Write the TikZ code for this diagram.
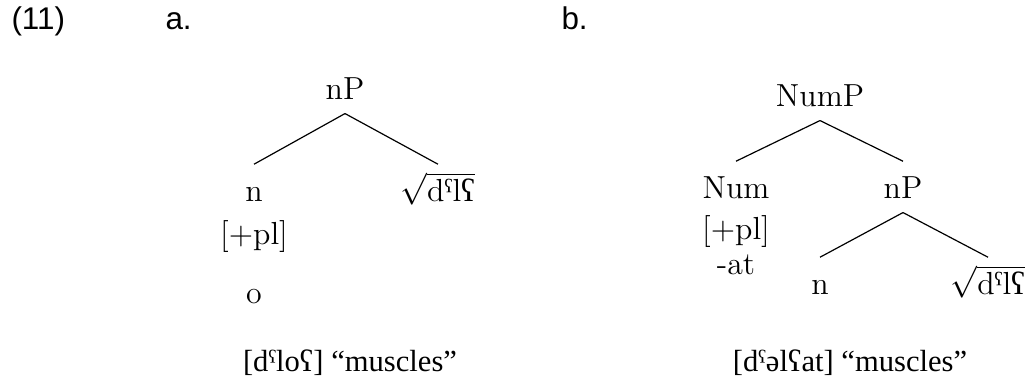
\documentclass[tikz,border=0pt]{standalone}
\usepackage{fontspec}
\newfontfamily\ipafont{Liberation Serif}
\newfontfamily\glossfont{Liberation Serif}
\newfontfamily\labelfont{Liberation Sans}
\usetikzlibrary{positioning}
\newcommand{\phar}{{\ipafont ˤ}}
\newcommand{\glot}{{\ipafont ʕ}}
\newcommand{\sroot}{$\sqrt{\mbox{d\phar l\glot}}$}
\tikzset{
  every picture/.style={x=0.376pt, y=-0.376pt},
  cat/.style={font=\fontsize{12}{14}\selectfont, inner sep=0pt, text height=14pt, text depth=4.9pt, anchor=base},
  feat/.style={font=\fontsize{12}{14}\selectfont, inner sep=0pt, anchor=base},
  gloss/.style={font=\glossfont\fontsize{11.5}{14}\selectfont, inner sep=0pt, anchor=base},
  exlabel/.style={font=\labelfont\fontsize{11.8}{14}\selectfont, inner sep=0pt, anchor=base west},
  branch/.style={draw, line width=0.45pt},
}

\begin{document}
\begin{tikzpicture}
  \useasboundingbox (0,0) rectangle (1030,381);
  \node[exlabel] (ex) at (11,30) {(11)};
  \node[exlabel] (la) at (165,30) {a.};
  \node[exlabel] (lb) at (561,30) {b.};
  % tree a
  \node[cat] (nPa) at (345,100) {nP};
  \node[cat] (na) at (254,202) {n};
  \node[cat] (ra) at (438,202) {\sroot};
  \node[feat] (fa) at (254,245) {[+pl]};
  \node[feat] (oa) at (254,304) {o};
  \draw[branch] (nPa.south) -- (na.north);
  \draw[branch] (nPa.south) -- (ra.north);
  \node[gloss] (ga) at (350,372) {[d\phar lo\glot] “muscles”};
  % tree b
  \node[cat] (NumPb) at (820,107) {NumP};
  \node[cat] (Numb) at (736,199) {Num};
  \node[cat] (nPb) at (903,199) {nP};
  \node[feat] (fb) at (736,240) {[+pl]};
  \node[feat] (atb) at (736,275) {-at};
  \node[cat] (nb) at (820,295) {n};
  \node[cat] (rb) at (988,295) {\sroot};
  \draw[branch] (NumPb.south) -- (Numb.north);
  \draw[branch] (NumPb.south) -- (nPb.north);
  \draw[branch] (nPb.south) -- (nb.north);
  \draw[branch] (nPb.south) -- (rb.north);
  \node[gloss] (gb) at (850,372) {[d\phar əl\glot at] “muscles”};
\end{tikzpicture}
\end{document}
